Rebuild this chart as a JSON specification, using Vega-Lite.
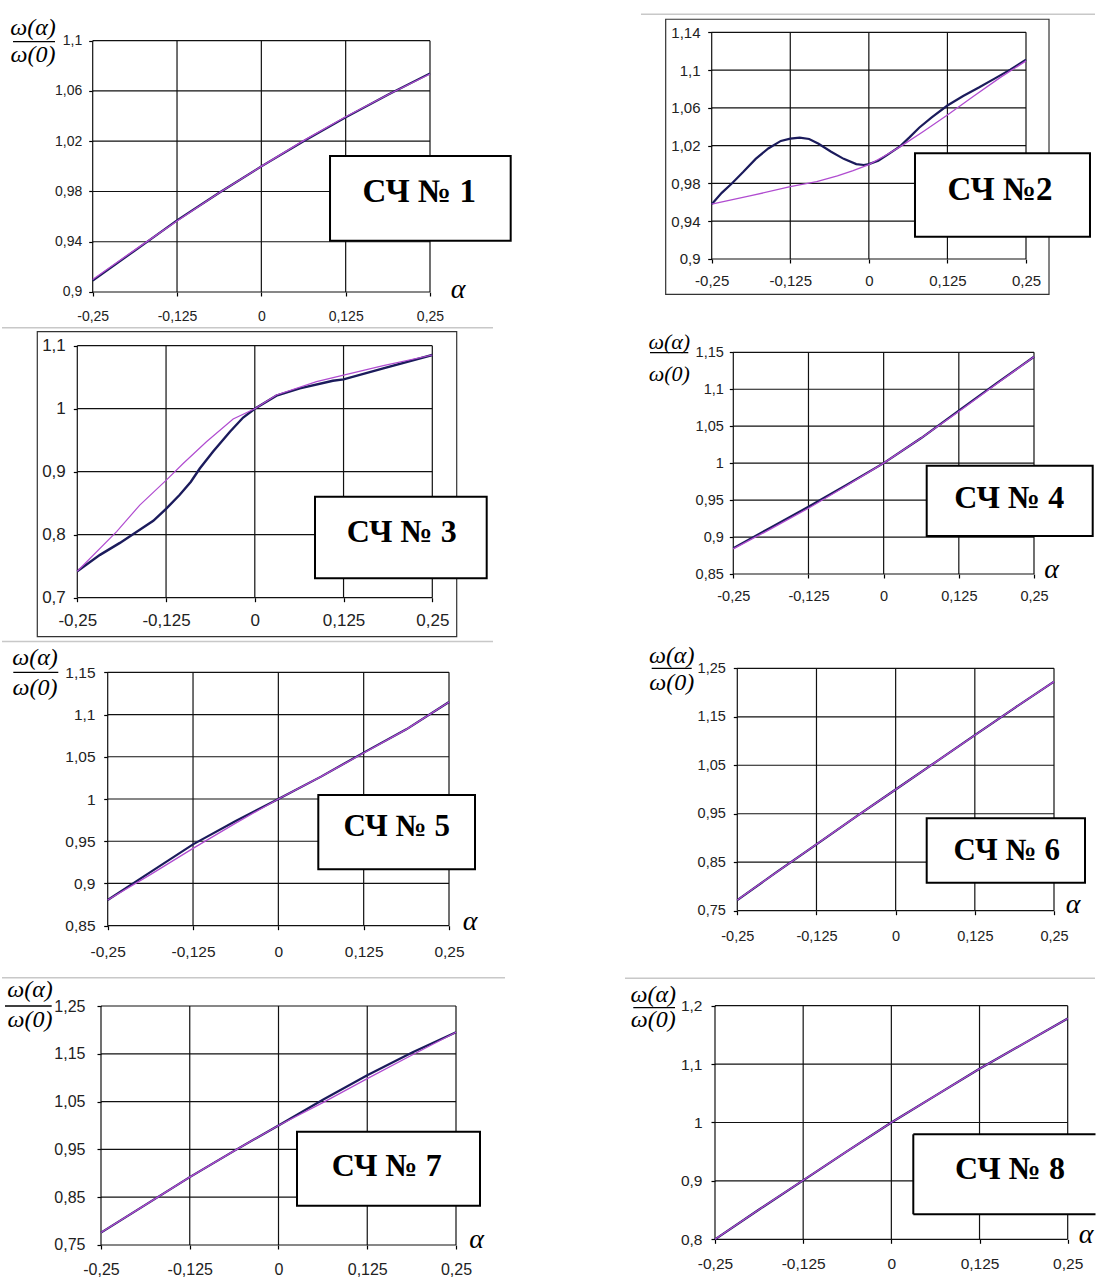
{
"$schema":"https://vega.github.io/schema/vega-lite/v6.json",
"padding":0,
"background":"white",
"columns":2,"spacing":0,"align":"none","bounds":"flush",
"config":{"view":{"stroke":null},
"axis":{"domain":false,"grid":false,"ticks":true,"tickColor":"#000","tickWidth":1.2,"tickSize":4,"labelFont":"Liberation Sans","labelColor":"#222","labelFlush":false,"labelOverlap":false,"labelBound":false}},
"datasets":{"curves":[
{"p":1,"s":"A","x":-0.25,"y":0.909},{"p":1,"s":"A","x":-0.1875,"y":0.933},{"p":1,"s":"A","x":-0.125,"y":0.957},{"p":1,"s":"A","x":-0.0625,"y":0.979},{"p":1,"s":"A","x":0,"y":1.0},{"p":1,"s":"A","x":0.0625,"y":1.02},{"p":1,"s":"A","x":0.125,"y":1.039},{"p":1,"s":"A","x":0.1875,"y":1.057},{"p":1,"s":"A","x":0.25,"y":1.074},
{"p":1,"s":"B","x":-0.25,"y":0.91},{"p":1,"s":"B","x":-0.1875,"y":0.9335},{"p":1,"s":"B","x":-0.125,"y":0.9565},{"p":1,"s":"B","x":-0.0625,"y":0.979},{"p":1,"s":"B","x":0,"y":1.0},{"p":1,"s":"B","x":0.0625,"y":1.0205},{"p":1,"s":"B","x":0.125,"y":1.0395},{"p":1,"s":"B","x":0.1875,"y":1.057},{"p":1,"s":"B","x":0.25,"y":1.0735},
{"p":2,"s":"A","x":-0.25,"y":0.958},{"p":2,"s":"A","x":-0.234,"y":0.97},{"p":2,"s":"A","x":-0.218,"y":0.98},{"p":2,"s":"A","x":-0.2,"y":0.992},{"p":2,"s":"A","x":-0.18,"y":1.006},{"p":2,"s":"A","x":-0.16,"y":1.017},{"p":2,"s":"A","x":-0.14,"y":1.025},{"p":2,"s":"A","x":-0.125,"y":1.0275},{"p":2,"s":"A","x":-0.11,"y":1.0285},{"p":2,"s":"A","x":-0.095,"y":1.027},{"p":2,"s":"A","x":-0.08,"y":1.022},{"p":2,"s":"A","x":-0.06,"y":1.0135},{"p":2,"s":"A","x":-0.04,"y":1.006},{"p":2,"s":"A","x":-0.02,"y":1.0005},{"p":2,"s":"A","x":-0.008,"y":0.9995},{"p":2,"s":"A","x":0,"y":1.0005},{"p":2,"s":"A","x":0.015,"y":1.004},{"p":2,"s":"A","x":0.03,"y":1.0105},{"p":2,"s":"A","x":0.05,"y":1.0195},{"p":2,"s":"A","x":0.065,"y":1.029},{"p":2,"s":"A","x":0.08,"y":1.039},{"p":2,"s":"A","x":0.1,"y":1.05},{"p":2,"s":"A","x":0.125,"y":1.0625},{"p":2,"s":"A","x":0.15,"y":1.0725},{"p":2,"s":"A","x":0.175,"y":1.0815},{"p":2,"s":"A","x":0.2,"y":1.091},{"p":2,"s":"A","x":0.225,"y":1.1005},{"p":2,"s":"A","x":0.25,"y":1.111},
{"p":2,"s":"B","x":-0.25,"y":0.958},{"p":2,"s":"B","x":-0.1875,"y":0.967},{"p":2,"s":"B","x":-0.125,"y":0.9765},{"p":2,"s":"B","x":-0.083,"y":0.982},{"p":2,"s":"B","x":-0.05,"y":0.988},{"p":2,"s":"B","x":-0.025,"y":0.9935},{"p":2,"s":"B","x":0,"y":1.0},{"p":2,"s":"B","x":0.025,"y":1.009},{"p":2,"s":"B","x":0.05,"y":1.019},{"p":2,"s":"B","x":0.0867,"y":1.035},{"p":2,"s":"B","x":0.125,"y":1.0525},{"p":2,"s":"B","x":0.166,"y":1.072},{"p":2,"s":"B","x":0.2087,"y":1.092},{"p":2,"s":"B","x":0.25,"y":1.1097},
{"p":3,"s":"A","x":-0.25,"y":0.742},{"p":3,"s":"A","x":-0.218,"y":0.768},{"p":3,"s":"A","x":-0.19,"y":0.787},{"p":3,"s":"A","x":-0.171,"y":0.801},{"p":3,"s":"A","x":-0.143,"y":0.822},{"p":3,"s":"A","x":-0.125,"y":0.841},{"p":3,"s":"A","x":-0.106,"y":0.863},{"p":3,"s":"A","x":-0.09,"y":0.884},{"p":3,"s":"A","x":-0.0775,"y":0.905},{"p":3,"s":"A","x":-0.0587,"y":0.932},{"p":3,"s":"A","x":-0.035,"y":0.9635},{"p":3,"s":"A","x":-0.0164,"y":0.986},{"p":3,"s":"A","x":0,"y":1.0},{"p":3,"s":"A","x":0.0305,"y":1.0206},{"p":3,"s":"A","x":0.0634,"y":1.0323},{"p":3,"s":"A","x":0.11,"y":1.0444},{"p":3,"s":"A","x":0.125,"y":1.0466},{"p":3,"s":"A","x":0.181,"y":1.064},{"p":3,"s":"A","x":0.25,"y":1.0852},
{"p":3,"s":"B","x":-0.25,"y":0.742},{"p":3,"s":"B","x":-0.1946,"y":0.805},{"p":3,"s":"B","x":-0.162,"y":0.847},{"p":3,"s":"B","x":-0.1243,"y":0.887},{"p":3,"s":"B","x":-0.1009,"y":0.913},{"p":3,"s":"B","x":-0.0681,"y":0.9476},{"p":3,"s":"B","x":-0.0305,"y":0.9836},{"p":3,"s":"B","x":0,"y":1.0},{"p":3,"s":"B","x":0.0305,"y":1.0217},{"p":3,"s":"B","x":0.0869,"y":1.0429},{"p":3,"s":"B","x":0.125,"y":1.0534},{"p":3,"s":"B","x":0.181,"y":1.0683},{"p":3,"s":"B","x":0.25,"y":1.0852},
{"p":4,"s":"A","x":-0.25,"y":0.885},{"p":4,"s":"A","x":-0.1875,"y":0.913},{"p":4,"s":"A","x":-0.125,"y":0.941},{"p":4,"s":"A","x":-0.0625,"y":0.97},{"p":4,"s":"A","x":0,"y":1.0},{"p":4,"s":"A","x":0.0625,"y":1.034},{"p":4,"s":"A","x":0.125,"y":1.071},{"p":4,"s":"A","x":0.1875,"y":1.108},{"p":4,"s":"A","x":0.25,"y":1.144},
{"p":4,"s":"B","x":-0.25,"y":0.884},{"p":4,"s":"B","x":-0.1875,"y":0.911},{"p":4,"s":"B","x":-0.125,"y":0.939},{"p":4,"s":"B","x":-0.0625,"y":0.969},{"p":4,"s":"B","x":0,"y":1.0},{"p":4,"s":"B","x":0.0625,"y":1.034},{"p":4,"s":"B","x":0.125,"y":1.07},{"p":4,"s":"B","x":0.1875,"y":1.107},{"p":4,"s":"B","x":0.25,"y":1.144},
{"p":5,"s":"A","x":-0.25,"y":0.8804},{"p":5,"s":"A","x":-0.1875,"y":0.9134},{"p":5,"s":"A","x":-0.125,"y":0.9463},{"p":5,"s":"A","x":-0.0625,"y":0.974},{"p":5,"s":"A","x":0,"y":1.0},{"p":5,"s":"A","x":0.0625,"y":1.0265},{"p":5,"s":"A","x":0.125,"y":1.0549},{"p":5,"s":"A","x":0.1875,"y":1.0825},{"p":5,"s":"A","x":0.25,"y":1.1149},
{"p":5,"s":"B","x":-0.25,"y":0.8804},{"p":5,"s":"B","x":-0.1875,"y":0.9105},{"p":5,"s":"B","x":-0.125,"y":0.9416},{"p":5,"s":"B","x":-0.0625,"y":0.9715},{"p":5,"s":"B","x":0,"y":1.0},{"p":5,"s":"B","x":0.0625,"y":1.0265},{"p":5,"s":"B","x":0.125,"y":1.0545},{"p":5,"s":"B","x":0.1875,"y":1.0825},{"p":5,"s":"B","x":0.25,"y":1.1149},
{"p":6,"s":"A","x":-0.25,"y":0.772},{"p":6,"s":"A","x":-0.1875,"y":0.83},{"p":6,"s":"A","x":-0.125,"y":0.887},{"p":6,"s":"A","x":-0.0625,"y":0.944},{"p":6,"s":"A","x":0,"y":1.0},{"p":6,"s":"A","x":0.0625,"y":1.056},{"p":6,"s":"A","x":0.125,"y":1.112},{"p":6,"s":"A","x":0.1875,"y":1.168},{"p":6,"s":"A","x":0.25,"y":1.2225},
{"p":6,"s":"B","x":-0.25,"y":0.772},{"p":6,"s":"B","x":-0.1875,"y":0.83},{"p":6,"s":"B","x":-0.125,"y":0.887},{"p":6,"s":"B","x":-0.0625,"y":0.944},{"p":6,"s":"B","x":0,"y":1.0},{"p":6,"s":"B","x":0.0625,"y":1.056},{"p":6,"s":"B","x":0.125,"y":1.112},{"p":6,"s":"B","x":0.1875,"y":1.168},{"p":6,"s":"B","x":0.25,"y":1.2225},
{"p":7,"s":"A","x":-0.25,"y":0.776},{"p":7,"s":"A","x":-0.1875,"y":0.834},{"p":7,"s":"A","x":-0.125,"y":0.892},{"p":7,"s":"A","x":-0.0625,"y":0.947},{"p":7,"s":"A","x":0,"y":1.0},{"p":7,"s":"A","x":0.0625,"y":1.054},{"p":7,"s":"A","x":0.125,"y":1.105},{"p":7,"s":"A","x":0.1875,"y":1.152},{"p":7,"s":"A","x":0.25,"y":1.195},
{"p":7,"s":"B","x":-0.25,"y":0.776},{"p":7,"s":"B","x":-0.1875,"y":0.834},{"p":7,"s":"B","x":-0.125,"y":0.892},{"p":7,"s":"B","x":-0.0625,"y":0.947},{"p":7,"s":"B","x":0,"y":1.0},{"p":7,"s":"B","x":0.0625,"y":1.048},{"p":7,"s":"B","x":0.125,"y":1.098},{"p":7,"s":"B","x":0.1875,"y":1.147},{"p":7,"s":"B","x":0.25,"y":1.195},
{"p":8,"s":"A","x":-0.25,"y":0.8},{"p":8,"s":"A","x":-0.1875,"y":0.851},{"p":8,"s":"A","x":-0.125,"y":0.901},{"p":8,"s":"A","x":-0.0625,"y":0.951},{"p":8,"s":"A","x":0,"y":1.0},{"p":8,"s":"A","x":0.0625,"y":1.046},{"p":8,"s":"A","x":0.125,"y":1.092},{"p":8,"s":"A","x":0.1875,"y":1.135},{"p":8,"s":"A","x":0.25,"y":1.178},
{"p":8,"s":"B","x":-0.25,"y":0.8},{"p":8,"s":"B","x":-0.1875,"y":0.851},{"p":8,"s":"B","x":-0.125,"y":0.901},{"p":8,"s":"B","x":-0.0625,"y":0.951},{"p":8,"s":"B","x":0,"y":1.0},{"p":8,"s":"B","x":0.0625,"y":1.046},{"p":8,"s":"B","x":0.125,"y":1.092},{"p":8,"s":"B","x":0.1875,"y":1.135},{"p":8,"s":"B","x":0.25,"y":1.178}
]},
"concat":[
{"width":560,"height":327,"data":{"values":[{}]},"layer":[
{"data":{"values":[{"v":-0.25},{"v":-0.125},{"v":0},{"v":0.125},{"v":0.25}]},"mark":{"type":"rule","color":"#111","strokeWidth":1.2},
"encoding":{"x":{"field":"v","type":"quantitative","scale":{"domain":[-0.38741,0.44271],"nice":false,"zero":false},"axis":{"values":[-0.25,-0.125,0,0.125,0.25],"offset":-35,"labelFontSize":14,"labelPadding":13,"labelExpr":"replace(toString(datum.value), '.', ',')","title":null}},
"y":{"datum":0.9,"type":"quantitative","title":null},"y2":{"datum":1.1}}},
{"data":{"values":[{"v":0.9},{"v":0.94},{"v":0.98},{"v":1.02},{"v":1.06},{"v":1.1}]},"mark":{"type":"rule","color":"#111","strokeWidth":1.2},
"encoding":{"y":{"field":"v","type":"quantitative","scale":{"domain":[0.87214,1.13239],"nice":false,"zero":false},"axis":{"values":[0.9,0.94,0.98,1.02,1.06,1.1],"offset":-92.7,"labelFontSize":14,"labelPadding":7,"labelExpr":"replace(toString(datum.value), '.', ',')","title":null}},
"x":{"datum":-0.25,"type":"quantitative","title":null},"x2":{"datum":0.25}}},
{"data":{"name":"curves"},"transform":[{"filter":"datum.p==1 && datum.s=='A'"}],"mark":{"type":"line","color":"#1b1b5c","strokeWidth":2.2},"encoding":{"x":{"field":"x","type":"quantitative","title":null},"y":{"field":"y","type":"quantitative","title":null}}},
{"data":{"name":"curves"},"transform":[{"filter":"datum.p==1 && datum.s=='B'"}],"mark":{"type":"line","color":"#b04cd0","strokeWidth":1.3},"encoding":{"x":{"field":"x","type":"quantitative","title":null},"y":{"field":"y","type":"quantitative","title":null}}},
{"mark":{"type":"rect","fill":"white","stroke":"black","strokeWidth":2},"encoding":{"x":{"datum":0.1018,"type":"quantitative","title":null},"x2":{"datum":0.36962},"y":{"datum":0.94083,"type":"quantitative","title":null},"y2":{"datum":1.00824}}},
{"mark":{"type":"text","text":"СЧ № 1","font":"Liberation Serif","fontWeight":"bold","fontSize":33,"fill":"black","align":"center","baseline":"middle"},"encoding":{"x":{"datum":0.23399,"type":"quantitative","title":null},"y":{"datum":0.97919,"type":"quantitative","title":null}}},
{"mark":{"type":"text","text":"α","font":"Liberation Serif","fontStyle":"italic","fontSize":28,"fill":"black","align":"center","baseline":"middle"},"encoding":{"x":{"datum":0.2915,"type":"quantitative","title":null},"y":{"datum":0.9016,"type":"quantitative","title":null}}},
{"mark":{"type":"text","text":"ω(α)","font":"Liberation Serif","fontStyle":"italic","fontSize":24,"fill":"black","align":"center","baseline":"middle"},"encoding":{"x":{"datum":-0.3385,"type":"quantitative","title":null},"y":{"datum":1.11011,"type":"quantitative","title":null}}},
{"mark":{"type":"rule","color":"black","strokeWidth":1.3},"encoding":{"x":{"datum":-0.3681,"type":"quantitative","title":null},"x2":{"datum":-0.3059},"y":{"datum":1.0992,"type":"quantitative","title":null}}},
{"mark":{"type":"text","text":"ω(0)","font":"Liberation Serif","fontStyle":"italic","fontSize":24,"fill":"black","align":"center","baseline":"middle"},"encoding":{"x":{"datum":-0.3385,"type":"quantitative","title":null},"y":{"datum":1.08862,"type":"quantitative","title":null}}}
]},
{"width":537,"height":327,"data":{"values":[{}]},"layer":[
{"mark":{"type":"rule","color":"#c8c8c8","strokeWidth":1.5},"encoding":{"x":{"datum":-0.3625,"type":"quantitative","title":null},"x2":{"datum":0.35977},"y":{"datum":1.1591,"type":"quantitative","title":null}}},
{"mark":{"type":"rect","filled":false,"color":"#333","strokeWidth":1.2},"encoding":{"x":{"datum":-0.3232,"type":"quantitative","title":null},"x2":{"datum":0.2866},"y":{"datum":0.8626,"type":"quantitative","title":null},"y2":{"datum":1.1538}}},
{"data":{"values":[{"v":-0.25},{"v":-0.125},{"v":0},{"v":0.125},{"v":0.25}]},"mark":{"type":"rule","color":"#111","strokeWidth":1.2},
"encoding":{"x":{"field":"v","type":"quantitative","scale":{"domain":[-0.49133,0.36295],"nice":false,"zero":false},"axis":{"values":[-0.25,-0.125,0,0.125,0.25],"offset":-68,"labelFontSize":15,"labelPadding":10.7,"labelExpr":"replace(toString(datum.value), '.', ',')","title":null}},
"y":{"datum":0.9,"type":"quantitative","title":null},"y2":{"datum":1.14}}},
{"data":{"values":[{"v":0.9},{"v":0.94},{"v":0.98},{"v":1.02},{"v":1.06},{"v":1.1},{"v":1.14}]},"mark":{"type":"rule","color":"#111","strokeWidth":1.2},
"encoding":{"y":{"field":"v","type":"quantitative","scale":{"domain":[0.82801,1.17419],"nice":false,"zero":false},"axis":{"values":[0.9,0.94,0.98,1.02,1.06,1.1,1.14],"offset":-151.7,"labelFontSize":15,"labelPadding":7.7,"labelExpr":"replace(toString(datum.value), '.', ',')","title":null}},
"x":{"datum":-0.25,"type":"quantitative","title":null},"x2":{"datum":0.25}}},
{"data":{"name":"curves"},"transform":[{"filter":"datum.p==2 && datum.s=='A'"}],"mark":{"type":"line","color":"#1b1b5c","strokeWidth":2.2},"encoding":{"x":{"field":"x","type":"quantitative","title":null},"y":{"field":"y","type":"quantitative","title":null}}},
{"data":{"name":"curves"},"transform":[{"filter":"datum.p==2 && datum.s=='B'"}],"mark":{"type":"line","color":"#b04cd0","strokeWidth":1.3},"encoding":{"x":{"field":"x","type":"quantitative","title":null},"y":{"field":"y","type":"quantitative","title":null}}},
{"mark":{"type":"rect","fill":"white","stroke":"black","strokeWidth":2},"encoding":{"x":{"datum":0.0734,"type":"quantitative","title":null},"x2":{"datum":0.3518},"y":{"datum":0.9236,"type":"quantitative","title":null},"y2":{"datum":1.0119}}},
{"mark":{"type":"text","text":"СЧ №2","font":"Liberation Serif","fontWeight":"bold","fontSize":33,"fill":"black","align":"center","baseline":"middle"},"encoding":{"x":{"datum":0.20864,"type":"quantitative","title":null},"y":{"datum":0.97305,"type":"quantitative","title":null}}}
]},
{"width":560,"height":314,"data":{"values":[{}]},"layer":[
{"mark":{"type":"rule","color":"#c8c8c8","strokeWidth":1.5},"encoding":{"x":{"datum":-0.35606,"type":"quantitative","title":null},"x2":{"datum":0.33549},"y":{"datum":1.12857,"type":"quantitative","title":null}}},
{"mark":{"type":"rect","filled":false,"color":"#333","strokeWidth":1.2},"encoding":{"x":{"datum":-0.30634,"type":"quantitative","title":null},"x2":{"datum":0.28437},"y":{"datum":0.6381,"type":"quantitative","title":null},"y2":{"datum":1.12222}}},
{"data":{"values":[{"v":-0.25},{"v":-0.125},{"v":0},{"v":0.125},{"v":0.25}]},"mark":{"type":"rule","color":"#111","strokeWidth":1.2},
"encoding":{"x":{"field":"v","type":"quantitative","scale":{"domain":[-0.35887,0.42986],"nice":false,"zero":false},"axis":{"values":[-0.25,-0.125,0,0.125,0.25],"offset":-43.3,"labelFontSize":17,"labelPadding":10.6,"labelExpr":"replace(toString(datum.value), '.', ',')","title":null}},
"y":{"datum":0.7,"type":"quantitative","title":null},"y2":{"datum":1.1}}},
{"data":{"values":[{"v":0.7},{"v":0.8},{"v":0.9},{"v":1},{"v":1.1}]},"mark":{"type":"rule","color":"#111","strokeWidth":1.2},
"encoding":{"y":{"field":"v","type":"quantitative","scale":{"domain":[0.63127,1.12968],"nice":false,"zero":false},"axis":{"values":[0.7,0.8,0.9,1,1.1],"offset":-77.3,"labelFontSize":17,"labelPadding":8,"labelExpr":"replace(toString(datum.value), '.', ',')","title":null}},
"x":{"datum":-0.25,"type":"quantitative","title":null},"x2":{"datum":0.25}}},
{"data":{"name":"curves"},"transform":[{"filter":"datum.p==3 && datum.s=='A'"}],"mark":{"type":"line","color":"#1b1b5c","strokeWidth":2.4},"encoding":{"x":{"field":"x","type":"quantitative","title":null},"y":{"field":"y","type":"quantitative","title":null}}},
{"data":{"name":"curves"},"transform":[{"filter":"datum.p==3 && datum.s=='B'"}],"mark":{"type":"line","color":"#b04cd0","strokeWidth":1.2},"encoding":{"x":{"field":"x","type":"quantitative","title":null},"y":{"field":"y","type":"quantitative","title":null}}},
{"mark":{"type":"rect","fill":"white","stroke":"black","strokeWidth":2},"encoding":{"x":{"datum":0.08479,"type":"quantitative","title":null},"x2":{"datum":0.32662},"y":{"datum":0.73079,"type":"quantitative","title":null},"y2":{"datum":0.86032}}},
{"mark":{"type":"text","text":"СЧ № 3","font":"Liberation Serif","fontWeight":"bold","fontSize":32,"fill":"black","align":"center","baseline":"middle"},"encoding":{"x":{"datum":0.2069,"type":"quantitative","title":null},"y":{"datum":0.80476,"type":"quantitative","title":null}}}
]},
{"width":537,"height":314,"data":{"values":[{}]},"layer":[
{"data":{"values":[{"v":-0.25},{"v":-0.125},{"v":0},{"v":0.125},{"v":0.25}]},"mark":{"type":"rule","color":"#111","strokeWidth":1.2},
"encoding":{"x":{"field":"v","type":"quantitative","scale":{"domain":[-0.53816,0.35476],"nice":false,"zero":false},"axis":{"values":[-0.25,-0.125,0,0.125,0.25],"offset":-67,"labelFontSize":14.5,"labelPadding":11,"labelExpr":"replace(toString(datum.value), '.', ',')","title":null}},
"y":{"datum":0.85,"type":"quantitative","title":null},"y2":{"datum":1.15}}},
{"data":{"values":[{"v":0.85},{"v":0.9},{"v":0.95},{"v":1},{"v":1.05},{"v":1.1},{"v":1.15}]},"mark":{"type":"rule","color":"#111","strokeWidth":1.2},
"encoding":{"y":{"field":"v","type":"quantitative","scale":{"domain":[0.75934,1.18424],"nice":false,"zero":false},"axis":{"values":[0.85,0.9,0.95,1,1.05,1.1,1.15],"offset":-173.3,"labelFontSize":14.5,"labelPadding":6,"labelExpr":"replace(toString(datum.value), '.', ',')","title":null}},
"x":{"datum":-0.25,"type":"quantitative","title":null},"x2":{"datum":0.25}}},
{"data":{"name":"curves"},"transform":[{"filter":"datum.p==4 && datum.s=='A'"}],"mark":{"type":"line","color":"#1b1b5c","strokeWidth":2.2},"encoding":{"x":{"field":"x","type":"quantitative","title":null},"y":{"field":"y","type":"quantitative","title":null}}},
{"data":{"name":"curves"},"transform":[{"filter":"datum.p==4 && datum.s=='B'"}],"mark":{"type":"line","color":"#b04cd0","strokeWidth":1.3},"encoding":{"x":{"field":"x","type":"quantitative","title":null},"y":{"field":"y","type":"quantitative","title":null}}},
{"mark":{"type":"rect","fill":"white","stroke":"black","strokeWidth":2},"encoding":{"x":{"datum":0.07158,"type":"quantitative","title":null},"x2":{"datum":0.34761},"y":{"datum":0.90142,"type":"quantitative","title":null},"y2":{"datum":0.99655}}},
{"mark":{"type":"text","text":"СЧ № 4","font":"Liberation Serif","fontWeight":"bold","fontSize":32,"fill":"black","align":"center","baseline":"middle"},"encoding":{"x":{"datum":0.20877,"type":"quantitative","title":null},"y":{"datum":0.95352,"type":"quantitative","title":null}}},
{"mark":{"type":"text","text":"α","font":"Liberation Serif","fontStyle":"italic","fontSize":28,"fill":"black","align":"center","baseline":"middle"},"encoding":{"x":{"datum":0.27943,"type":"quantitative","title":null},"y":{"datum":0.8554,"type":"quantitative","title":null}}},
{"mark":{"type":"text","text":"ω(α)","font":"Liberation Serif","fontStyle":"italic","fontSize":22,"fill":"black","align":"center","baseline":"middle"},"encoding":{"x":{"datum":-0.35642,"type":"quantitative","title":null},"y":{"datum":1.16394,"type":"quantitative","title":null}}},
{"mark":{"type":"rule","color":"black","strokeWidth":1.3},"encoding":{"x":{"datum":-0.38851,"type":"quantitative","title":null},"x2":{"datum":-0.32482},"y":{"datum":1.14946,"type":"quantitative","title":null}}},
{"mark":{"type":"text","text":"ω(0)","font":"Liberation Serif","fontStyle":"italic","fontSize":22,"fill":"black","align":"center","baseline":"middle"},"encoding":{"x":{"datum":-0.35642,"type":"quantitative","title":null},"y":{"datum":1.12011,"type":"quantitative","title":null}}}
]},
{"width":560,"height":336,"data":{"values":[{}]},"layer":[
{"mark":{"type":"rule","color":"#c8c8c8","strokeWidth":1.5},"encoding":{"x":{"datum":-0.40485,"type":"quantitative","title":null},"x2":{"datum":0.31446},"y":{"datum":1.18647,"type":"quantitative","title":null}}},
{"data":{"values":[{"v":-0.25},{"v":-0.125},{"v":0},{"v":0.125},{"v":0.25}]},"mark":{"type":"rule","color":"#111","strokeWidth":1.2},
"encoding":{"x":{"field":"v","type":"quantitative","scale":{"domain":[-0.40778,0.41261],"nice":false,"zero":false},"axis":{"values":[-0.25,-0.125,0,0.125,0.25],"offset":-51.3,"labelFontSize":15.5,"labelPadding":14.5,"labelExpr":"replace(toString(datum.value), '.', ',')","title":null}},
"y":{"datum":0.85,"type":"quantitative","title":null},"y2":{"datum":1.15}}},
{"data":{"values":[{"v":0.85},{"v":0.9},{"v":0.95},{"v":1},{"v":1.05},{"v":1.1},{"v":1.15}]},"mark":{"type":"rule","color":"#111","strokeWidth":1.2},
"encoding":{"y":{"field":"v","type":"quantitative","scale":{"domain":[0.78927,1.18706],"nice":false,"zero":false},"axis":{"values":[0.85,0.9,0.95,1,1.05,1.1,1.15],"offset":-107.7,"labelFontSize":15.5,"labelPadding":8.7,"labelExpr":"replace(toString(datum.value), '.', ',')","title":null}},
"x":{"datum":-0.25,"type":"quantitative","title":null},"x2":{"datum":0.25}}},
{"data":{"name":"curves"},"transform":[{"filter":"datum.p==5 && datum.s=='A'"}],"mark":{"type":"line","color":"#1b1b5c","strokeWidth":2.2},"encoding":{"x":{"field":"x","type":"quantitative","title":null},"y":{"field":"y","type":"quantitative","title":null}}},
{"data":{"name":"curves"},"transform":[{"filter":"datum.p==5 && datum.s=='B'"}],"mark":{"type":"line","color":"#b04cd0","strokeWidth":1.3},"encoding":{"x":{"field":"x","type":"quantitative","title":null},"y":{"field":"y","type":"quantitative","title":null}}},
{"mark":{"type":"rect","fill":"white","stroke":"black","strokeWidth":2},"encoding":{"x":{"datum":0.05853,"type":"quantitative","title":null},"x2":{"datum":0.28809},"y":{"datum":0.91677,"type":"quantitative","title":null},"y2":{"datum":1.00473}}},
{"mark":{"type":"text","text":"СЧ № 5","font":"Liberation Serif","fontWeight":"bold","fontSize":31,"fill":"black","align":"center","baseline":"middle"},"encoding":{"x":{"datum":0.17338,"type":"quantitative","title":null},"y":{"datum":0.96721,"type":"quantitative","title":null}}},
{"mark":{"type":"text","text":"α","font":"Liberation Serif","fontStyle":"italic","fontSize":28,"fill":"black","align":"center","baseline":"middle"},"encoding":{"x":{"datum":0.28077,"type":"quantitative","title":null},"y":{"datum":0.8544,"type":"quantitative","title":null}}},
{"mark":{"type":"text","text":"ω(α)","font":"Liberation Serif","fontStyle":"italic","fontSize":24,"fill":"black","align":"center","baseline":"middle"},"encoding":{"x":{"datum":-0.35651,"type":"quantitative","title":null},"y":{"datum":1.16752,"type":"quantitative","title":null}}},
{"mark":{"type":"rule","color":"black","strokeWidth":1.3},"encoding":{"x":{"datum":-0.3883,"type":"quantitative","title":null},"x2":{"datum":-0.32237},"y":{"datum":1.15,"type":"quantitative","title":null}}},
{"mark":{"type":"text","text":"ω(0)","font":"Liberation Serif","fontStyle":"italic","fontSize":24,"fill":"black","align":"center","baseline":"middle"},"encoding":{"x":{"datum":-0.35651,"type":"quantitative","title":null},"y":{"datum":1.13141,"type":"quantitative","title":null}}}
]},
{"width":537,"height":336,"data":{"values":[{}]},"layer":[
{"data":{"values":[{"v":-0.25},{"v":-0.125},{"v":0},{"v":0.125},{"v":0.25}]},"mark":{"type":"rule","color":"#111","strokeWidth":1.2},
"encoding":{"x":{"field":"v","type":"quantitative","scale":{"domain":[-0.52992,0.31789],"nice":false,"zero":false},"axis":{"values":[-0.25,-0.125,0,0.125,0.25],"offset":-66.3,"labelFontSize":14.5,"labelPadding":14.3,"labelExpr":"replace(toString(datum.value), '.', ',')","title":null}},
"y":{"datum":0.75,"type":"quantitative","title":null},"y2":{"datum":1.25}}},
{"data":{"values":[{"v":0.75},{"v":0.85},{"v":0.95},{"v":1.05},{"v":1.15},{"v":1.25}]},"mark":{"type":"rule","color":"#111","strokeWidth":1.2},
"encoding":{"y":{"field":"v","type":"quantitative","scale":{"domain":[0.61324,1.30631],"nice":false,"zero":false},"axis":{"values":[0.75,0.85,0.95,1.05,1.15,1.25],"offset":-177.3,"labelFontSize":14.5,"labelPadding":8,"labelExpr":"replace(toString(datum.value), '.', ',')","title":null}},
"x":{"datum":-0.25,"type":"quantitative","title":null},"x2":{"datum":0.25}}},
{"data":{"name":"curves"},"transform":[{"filter":"datum.p==6 && datum.s=='A'"}],"mark":{"type":"line","color":"#1b1b5c","strokeWidth":2.2},"encoding":{"x":{"field":"x","type":"quantitative","title":null},"y":{"field":"y","type":"quantitative","title":null}}},
{"data":{"name":"curves"},"transform":[{"filter":"datum.p==6 && datum.s=='B'"}],"mark":{"type":"line","color":"#b04cd0","strokeWidth":1.3},"encoding":{"x":{"field":"x","type":"quantitative","title":null},"y":{"field":"y","type":"quantitative","title":null}}},
{"mark":{"type":"rect","fill":"white","stroke":"black","strokeWidth":2},"encoding":{"x":{"datum":0.04902,"type":"quantitative","title":null},"x2":{"datum":0.29895},"y":{"datum":0.80776,"type":"quantitative","title":null},"y2":{"datum":0.94059}}},
{"mark":{"type":"text","text":"СЧ № 6","font":"Liberation Serif","fontWeight":"bold","fontSize":31,"fill":"black","align":"center","baseline":"middle"},"encoding":{"x":{"datum":0.17532,"type":"quantitative","title":null},"y":{"datum":0.87356,"type":"quantitative","title":null}}},
{"mark":{"type":"text","text":"α","font":"Liberation Serif","fontStyle":"italic","fontSize":28,"fill":"black","align":"center","baseline":"middle"},"encoding":{"x":{"datum":0.28,"type":"quantitative","title":null},"y":{"datum":0.7618,"type":"quantitative","title":null}}},
{"mark":{"type":"text","text":"ω(α)","font":"Liberation Serif","fontStyle":"italic","fontSize":24,"fill":"black","align":"center","baseline":"middle"},"encoding":{"x":{"datum":-0.35357,"type":"quantitative","title":null},"y":{"datum":1.27578,"type":"quantitative","title":null}}},
{"mark":{"type":"rule","color":"black","strokeWidth":1.3},"encoding":{"x":{"datum":-0.38514,"type":"quantitative","title":null},"x2":{"datum":-0.32199},"y":{"datum":1.25,"type":"quantitative","title":null}}},
{"mark":{"type":"text","text":"ω(0)","font":"Liberation Serif","fontStyle":"italic","fontSize":24,"fill":"black","align":"center","baseline":"middle"},"encoding":{"x":{"datum":-0.35357,"type":"quantitative","title":null},"y":{"datum":1.21906,"type":"quantitative","title":null}}}
]},
{"width":560,"height":302,"data":{"values":[{}]},"layer":[
{"mark":{"type":"rule","color":"#c8c8c8","strokeWidth":1.5},"encoding":{"x":{"datum":-0.38944,"type":"quantitative","title":null},"x2":{"datum":0.31901},"y":{"datum":1.30921,"type":"quantitative","title":null}}},
{"data":{"values":[{"v":-0.25},{"v":-0.125},{"v":0},{"v":0.125},{"v":0.25}]},"mark":{"type":"rule","color":"#111","strokeWidth":1.2},
"encoding":{"x":{"field":"v","type":"quantitative","scale":{"domain":[-0.39225,0.39648],"nice":false,"zero":false},"axis":{"values":[-0.25,-0.125,0,0.125,0.25],"offset":-34,"labelFontSize":16,"labelPadding":12,"labelExpr":"replace(toString(datum.value), '.', ',')","title":null}},
"y":{"datum":0.75,"type":"quantitative","title":null},"y2":{"datum":1.25}}},
{"data":{"values":[{"v":0.75},{"v":0.85},{"v":0.95},{"v":1.05},{"v":1.15},{"v":1.25}]},"mark":{"type":"rule","color":"#111","strokeWidth":1.2},
"encoding":{"y":{"field":"v","type":"quantitative","scale":{"domain":[0.67887,1.31067],"nice":false,"zero":false},"axis":{"values":[0.75,0.85,0.95,1.05,1.15,1.25],"offset":-101,"labelFontSize":16,"labelPadding":12,"labelExpr":"replace(toString(datum.value), '.', ',')","title":null}},
"x":{"datum":-0.25,"type":"quantitative","title":null},"x2":{"datum":0.25}}},
{"data":{"name":"curves"},"transform":[{"filter":"datum.p==7 && datum.s=='A'"}],"mark":{"type":"line","color":"#1b1b5c","strokeWidth":2.2},"encoding":{"x":{"field":"x","type":"quantitative","title":null},"y":{"field":"y","type":"quantitative","title":null}}},
{"data":{"name":"curves"},"transform":[{"filter":"datum.p==7 && datum.s=='B'"}],"mark":{"type":"line","color":"#b04cd0","strokeWidth":1.3},"encoding":{"x":{"field":"x","type":"quantitative","title":null},"y":{"field":"y","type":"quantitative","title":null}}},
{"mark":{"type":"rect","fill":"white","stroke":"black","strokeWidth":2},"encoding":{"x":{"datum":0.02606,"type":"quantitative","title":null},"x2":{"datum":0.2838},"y":{"datum":0.83222,"type":"quantitative","title":null},"y2":{"datum":0.98703}}},
{"mark":{"type":"text","text":"СЧ № 7","font":"Liberation Serif","fontWeight":"bold","fontSize":32,"fill":"black","align":"center","baseline":"middle"},"encoding":{"x":{"datum":0.15239,"type":"quantitative","title":null},"y":{"datum":0.91569,"type":"quantitative","title":null}}},
{"mark":{"type":"text","text":"α","font":"Liberation Serif","fontStyle":"italic","fontSize":28,"fill":"black","align":"center","baseline":"middle"},"encoding":{"x":{"datum":0.27915,"type":"quantitative","title":null},"y":{"datum":0.7605,"type":"quantitative","title":null}}},
{"mark":{"type":"text","text":"ω(α)","font":"Liberation Serif","fontStyle":"italic","fontSize":24,"fill":"black","align":"center","baseline":"middle"},"encoding":{"x":{"datum":-0.35,"type":"quantitative","title":null},"y":{"datum":1.28347,"type":"quantitative","title":null}}},
{"mark":{"type":"rule","color":"black","strokeWidth":1.3},"encoding":{"x":{"datum":-0.38521,"type":"quantitative","title":null},"x2":{"datum":-0.31944},"y":{"datum":1.25,"type":"quantitative","title":null}}},
{"mark":{"type":"text","text":"ω(0)","font":"Liberation Serif","fontStyle":"italic","fontSize":24,"fill":"black","align":"center","baseline":"middle"},"encoding":{"x":{"datum":-0.35,"type":"quantitative","title":null},"y":{"datum":1.22071,"type":"quantitative","title":null}}}
]},
{"width":537,"height":302,"data":{"values":[{}]},"layer":[
{"mark":{"type":"rule","color":"#c8c8c8","strokeWidth":1.5},"encoding":{"x":{"datum":-0.37759,"type":"quantitative","title":null},"x2":{"datum":0.2887},"y":{"datum":1.24692,"type":"quantitative","title":null}}},
{"data":{"values":[{"v":-0.25},{"v":-0.125},{"v":0},{"v":0.125},{"v":0.25}]},"mark":{"type":"rule","color":"#111","strokeWidth":1.2},
"encoding":{"x":{"field":"v","type":"quantitative","scale":{"domain":[-0.46973,0.29154],"nice":false,"zero":false},"axis":{"values":[-0.25,-0.125,0,0.125,0.25],"offset":-39.7,"labelFontSize":15.5,"labelPadding":12.9,"labelExpr":"replace(toString(datum.value), '.', ',')","title":null}},
"y":{"datum":0.8,"type":"quantitative","title":null},"y2":{"datum":1.2}}},
{"data":{"values":[{"v":0.8},{"v":0.9},{"v":1},{"v":1.1},{"v":1.2}]},"mark":{"type":"rule","color":"#111","strokeWidth":1.2},
"encoding":{"y":{"field":"v","type":"quantitative","scale":{"domain":[0.73202,1.24914],"nice":false,"zero":false},"axis":{"values":[0.8,0.9,1,1.1,1.2],"offset":-155,"labelFontSize":15.5,"labelPadding":9,"labelExpr":"replace(toString(datum.value), '.', ',')","title":null}},
"x":{"datum":-0.25,"type":"quantitative","title":null},"x2":{"datum":0.25}}},
{"data":{"name":"curves"},"transform":[{"filter":"datum.p==8 && datum.s=='A'"}],"mark":{"type":"line","color":"#1b1b5c","strokeWidth":2.2},"encoding":{"x":{"field":"x","type":"quantitative","title":null},"y":{"field":"y","type":"quantitative","title":null}}},
{"data":{"name":"curves"},"transform":[{"filter":"datum.p==8 && datum.s=='B'"}],"mark":{"type":"line","color":"#b04cd0","strokeWidth":1.3},"encoding":{"x":{"field":"x","type":"quantitative","title":null},"y":{"field":"y","type":"quantitative","title":null}}},
{"mark":{"type":"rect","fill":"white"},"encoding":{"x":{"datum":0.03111,"type":"quantitative","title":null},"x2":{"datum":0.29012},"y":{"datum":0.84281,"type":"quantitative","title":null},"y2":{"datum":0.97979}}},
{"mark":{"type":"rule","color":"black","strokeWidth":2},"encoding":{"x":{"datum":0.03111,"type":"quantitative","title":null},"y":{"datum":0.84281,"type":"quantitative","title":null},"y2":{"datum":0.97979}}},
{"mark":{"type":"rule","color":"black","strokeWidth":2},"encoding":{"x":{"datum":0.03111,"type":"quantitative","title":null},"x2":{"datum":0.28941},"y":{"datum":0.97979,"type":"quantitative","title":null}}},
{"mark":{"type":"rule","color":"black","strokeWidth":2},"encoding":{"x":{"datum":0.03111,"type":"quantitative","title":null},"x2":{"datum":0.28941},"y":{"datum":0.84281,"type":"quantitative","title":null}}},
{"mark":{"type":"text","text":"СЧ № 8","font":"Liberation Serif","fontWeight":"bold","fontSize":32,"fill":"black","align":"center","baseline":"middle"},"encoding":{"x":{"datum":0.1682,"type":"quantitative","title":null},"y":{"datum":0.92038,"type":"quantitative","title":null}}},
{"mark":{"type":"text","text":"α","font":"Liberation Serif","fontStyle":"italic","fontSize":28,"fill":"black","align":"center","baseline":"middle"},"encoding":{"x":{"datum":0.27594,"type":"quantitative","title":null},"y":{"datum":0.8073,"type":"quantitative","title":null}}},
{"mark":{"type":"text","text":"ω(α)","font":"Liberation Serif","fontStyle":"italic","fontSize":24,"fill":"black","align":"center","baseline":"middle"},"encoding":{"x":{"datum":-0.33747,"type":"quantitative","title":null},"y":{"datum":1.21832,"type":"quantitative","title":null}}},
{"mark":{"type":"rule","color":"black","strokeWidth":1.3},"encoding":{"x":{"datum":-0.36582,"type":"quantitative","title":null},"x2":{"datum":-0.30671},"y":{"datum":1.19658,"type":"quantitative","title":null}}},
{"mark":{"type":"text","text":"ω(0)","font":"Liberation Serif","fontStyle":"italic","fontSize":24,"fill":"black","align":"center","baseline":"middle"},"encoding":{"x":{"datum":-0.33747,"type":"quantitative","title":null},"y":{"datum":1.17551,"type":"quantitative","title":null}}}
]}
]
}
